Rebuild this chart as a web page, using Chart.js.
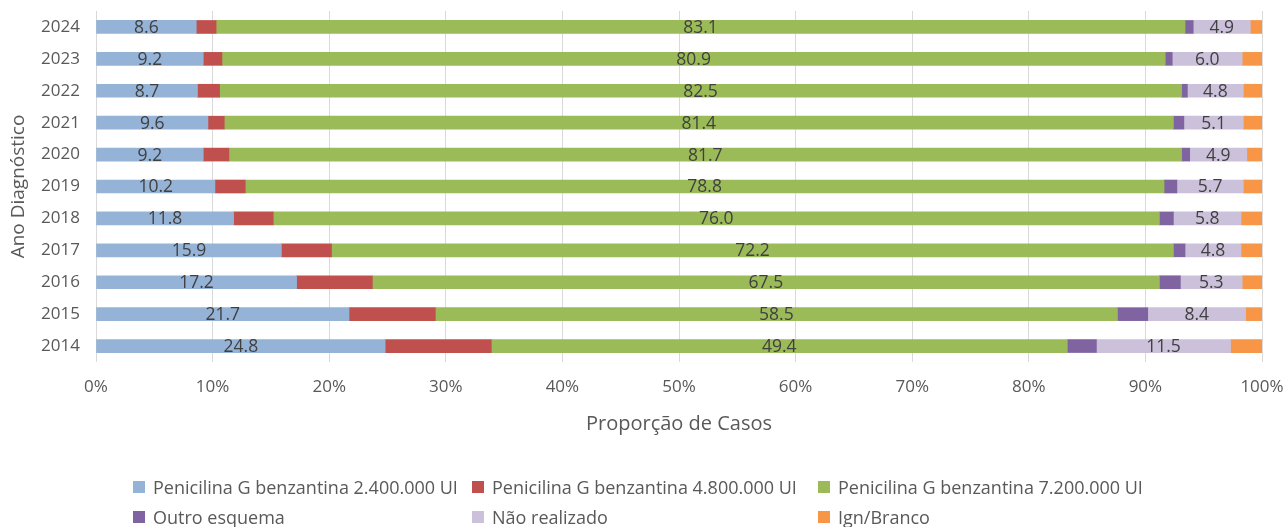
<!DOCTYPE html>
<html>
<head>
<meta charset="utf-8">
<script src="https://cdn.jsdelivr.net/npm/chart.js@4"></script>
<style>
  body { margin: 0; background: #fff; }
  #wrap { position: relative; width: 1288px; height: 527px; }
  #legend { position: absolute; left: 0; top: 0; width: 1288px; height: 527px; pointer-events: none;
            font-family: "Open Sans", sans-serif; font-size: 18px; color: #595959; }
  .item { position: absolute; display: flex; align-items: center; white-space: nowrap; }
  .box { width: 12px; height: 12px; margin-right: 8px; }
</style>
</head>
<body>
<div id="wrap">
  <canvas id="chart" width="1288" height="527"></canvas>
  <div id="legend"></div>
</div>
<script>
// anos, de cima para baixo como no gráfico
var years = ['2024','2023','2022','2021','2020','2019','2018','2017','2016','2015','2014'];

var pen24 = [8.6, 9.2, 8.7, 9.6, 9.2, 10.2, 11.8, 15.9, 17.2, 21.7, 24.8];
var pen48 = [1.7, 1.6, 1.9, 1.4, 2.2, 2.6, 3.4, 4.3, 6.5, 7.4, 9.1];
var pen72 = [83.1, 80.9, 82.5, 81.4, 81.7, 78.8, 76.0, 72.2, 67.5, 58.5, 49.4];
var outro = [0.7, 0.6, 0.5, 0.9, 0.7, 1.1, 1.2, 1.0, 1.8, 2.6, 2.5];
var naoRealizado = [4.9, 6.0, 4.8, 5.1, 4.9, 5.7, 5.8, 4.8, 5.3, 8.4, 11.5];
var ignBranco = [1.0, 1.7, 1.6, 1.6, 1.3, 1.6, 1.8, 1.8, 1.7, 1.4, 2.7];

var xTicks = [0, 10, 20, 30, 40, 50, 60, 70, 80, 90, 100];

const FONT = '"Open Sans", sans-serif';

// rótulos de valor no meio das barras (só algumas séries)
const barLabels = {
  id: 'barLabels',
  afterDatasetsDraw(chart) {
    const ctx = chart.ctx;
    ctx.save();
    ctx.font = '17.5px ' + FONT;
    ctx.fillStyle = '#404040';
    ctx.textAlign = 'center';
    ctx.textBaseline = 'middle';
    chart.data.datasets.forEach((ds, i) => {
      if (!ds.showValue) return;
      chart.getDatasetMeta(i).data.forEach((bar, j) => {
        const p = bar.getProps(['x', 'y', 'base'], true);
        ctx.fillText(ds.data[j].toFixed(1), (p.x + p.base) / 2, p.y + 1);
      });
    });
    ctx.restore();
  }
};

function ds(label, data, color, showValue) {
  return { label: label, data: data, backgroundColor: color, borderWidth: 0,
           barThickness: 13, showValue: showValue };
}

const chart = new Chart(document.getElementById('chart'), {
  type: 'bar',
  data: {
    labels: years,
    datasets: [
      ds('Penicilina G benzantina 2.400.000 UI', pen24, '#95B3D7', true),
      ds('Penicilina G benzantina 4.800.000 UI', pen48, '#C0504D', false),
      ds('Penicilina G benzantina 7.200.000 UI', pen72, '#9BBB59', true),
      ds('Outro esquema', outro, '#8064A2', false),
      ds('Não realizado', naoRealizado, '#CCC1DA', true),
      ds('Ign/Branco', ignBranco, '#F79646', false)
    ]
  },
  plugins: [barLabels],
  options: {
    indexAxis: 'y',
    responsive: false,
    animation: false,
    layout: { padding: { left: 0, right: 26, top: 11, bottom: 85 } },
    plugins: { legend: { display: false }, tooltip: { enabled: false } },
    scales: {
      x: {
        stacked: true,
        min: 0,
        max: 100,
        afterBuildTicks: (s) => { s.ticks = xTicks.map(v => ({ value: v })); },
        afterFit: (s) => { s.height = 80; s.paddingLeft = 0; s.paddingRight = 0; },
        grid: { color: '#D9D9D9', drawTicks: false },
        border: { display: false },
        ticks: { padding: 15, color: '#595959', font: { family: FONT, size: 17 },
                 callback: (v) => v + '%' },
        title: { display: true, text: 'Proporção de Casos', color: '#595959',
                 font: { family: FONT, size: 20 }, padding: { top: 0, bottom: 6 } }
      },
      y: {
        stacked: true,
        afterFit: (s) => { s.width = 96; s.paddingTop = 0; s.paddingBottom = 0; },
        grid: { display: false, drawTicks: false },
        border: { display: false },
        ticks: { padding: 16, color: '#595959', font: { family: FONT, size: 17 } },
        title: { display: true, text: 'Ano Diagnóstico', color: '#595959',
                 font: { family: FONT, size: 19 }, padding: { top: 7, bottom: 0 } }
      }
    }
  }
});

// legenda em grade, como no original
var legendCols = [133, 472, 818];
var legendRows = [487, 517];
var legend = document.getElementById('legend');
chart.data.datasets.forEach(function (d, i) {
  var el = document.createElement('div');
  el.className = 'item';
  el.style.left = legendCols[i % 3] + 'px';
  el.style.top = (legendRows[Math.floor(i / 3)] - 12) + 'px';
  el.style.height = '24px';
  el.innerHTML = '<span class="box" style="background:' + d.backgroundColor + '"></span>';
  el.appendChild(document.createTextNode(d.label));
  legend.appendChild(el);
});
</script>
</body>
</html>
